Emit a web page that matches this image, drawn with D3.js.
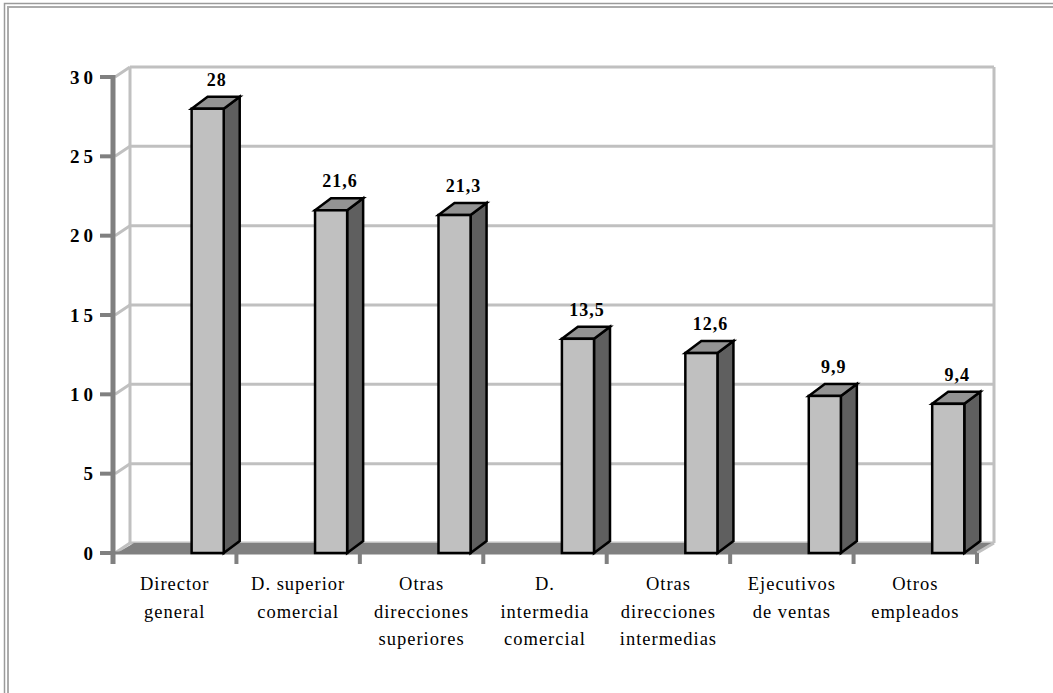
<!DOCTYPE html>
<html>
<head>
<meta charset="utf-8">
<script src="https://cdn.jsdelivr.net/npm/d3@7"></script>
<style>
html,body{margin:0;padding:0;background:#fff;}
svg{display:block;}
text{font-family:"Times New Roman","Liberation Serif",Tinos,serif;}
</style>
</head>
<body>
<svg id="chart" width="1053" height="693"></svg>
<script>
const categories = [
  ["Director", "general"],
  ["D. superior", "comercial"],
  ["Otras", "direcciones", "superiores"],
  ["D.", "intermedia", "comercial"],
  ["Otras", "direcciones", "intermedias"],
  ["Ejecutivos", "de ventas"],
  ["Otros", "empleados"]
];
const values = [28, 21.6, 21.3, 13.5, 12.6, 9.9, 9.4];
const valueLabels = ["28", "21,6", "21,3", "13,5", "12,6", "9,9", "9,4"];
const yTicks = [0, 5, 10, 15, 20, 25, 30];

const svg = d3.select("#chart");

// outer frame (double line, cropped at right/bottom)
svg.append("rect").attr("x", 4.5).attr("y", 3.5).attr("width", 1100).attr("height", 800)
  .attr("fill", "none").attr("stroke", "#9a9a9a").attr("stroke-width", 1.5);
svg.append("rect").attr("x", 8).attr("y", 7).attr("width", 1100).attr("height", 800)
  .attr("fill", "none").attr("stroke", "#ababab").attr("stroke-width", 2);

const keys = categories.map(c => c.join(" "));
const x = d3.scaleBand().domain(keys).range([113, 977]).padding(0);
const y = d3.scaleLinear().domain([0, 30]).range([553, 77]);

const WDX = 17, WDY = 10;   // wall depth
const BDX = 16, BDY = 12;   // bar depth
const x0 = x.range()[0], x1 = x.range()[1];

const wall = svg.append("g");
yTicks.forEach(t => {
  wall.append("line")
    .attr("x1", x0 + WDX).attr("x2", x1 + WDX)
    .attr("y1", y(t) - WDY).attr("y2", y(t) - WDY)
    .attr("stroke", "#c0c0c0").attr("stroke-width", 3);
  wall.append("line")
    .attr("x1", x0 + 2).attr("y1", y(t))
    .attr("x2", x0 + WDX).attr("y2", y(t) - WDY)
    .attr("stroke", "#c0c0c0").attr("stroke-width", 3);
});
wall.append("line").attr("x1", x0 + WDX).attr("x2", x0 + WDX)
  .attr("y1", y(30) - WDY).attr("y2", y(0) - WDY)
  .attr("stroke", "#c0c0c0").attr("stroke-width", 3);
wall.append("line").attr("x1", x1 + WDX).attr("x2", x1 + WDX)
  .attr("y1", y(30) - WDY).attr("y2", y(0) - WDY)
  .attr("stroke", "#c0c0c0").attr("stroke-width", 3);

// floor
const floorPts = [[x0 + 4, y(0)], [x1, y(0)], [x1 + WDX, y(0) - WDY], [x0 + WDX + 4, y(0) - WDY]];
wall.append("path").attr("d", "M" + floorPts.map(p => p.join(",")).join("L") + "Z")
  .attr("fill", "#808080");
wall.append("line").attr("x1", x1).attr("y1", y(0)).attr("x2", x1 + WDX).attr("y2", y(0) - WDY)
  .attr("stroke", "#c0c0c0").attr("stroke-width", 3);

// axes
const axisG = svg.append("g");
axisG.append("line").attr("x1", x0).attr("x2", x0).attr("y1", y(30) - 2).attr("y2", y(0) + 11)
  .attr("stroke", "#808080").attr("stroke-width", 5);
yTicks.forEach(t => {
  axisG.append("line").attr("x1", 100).attr("x2", x0).attr("y1", y(t)).attr("y2", y(t))
    .attr("stroke", "#808080").attr("stroke-width", 4);
  axisG.append("text").attr("x", 93 + 4).attr("y", y(t)).attr("dy", "0.35em")
    .attr("text-anchor", "end")
    .attr("font-weight", "bold").attr("font-size", 19)
    .attr("letter-spacing", "4px")
    .text(t);
});
axisG.append("line").attr("x1", x0).attr("x2", x1).attr("y1", y(0)).attr("y2", y(0))
  .attr("stroke", "#808080").attr("stroke-width", 3);
keys.concat([null]).forEach((k) => {
  const xx = k === null ? x1 : x(k);
  axisG.append("line").attr("x1", xx).attr("x2", xx).attr("y1", y(0)).attr("y2", y(0) + 11)
    .attr("stroke", "#808080").attr("stroke-width", 4);
});

// bars
const bars = svg.append("g");
keys.forEach((k, i) => {
  const bx = x(k) + x.bandwidth() * 0.637;
  const bw = x.bandwidth() * 0.26;
  const top = y(values[i]);
  const bot = y(0);
  const g = bars.append("g").attr("stroke", "#000").attr("stroke-width", 2.5).attr("stroke-linejoin", "miter");
  g.append("path").attr("d",
    `M${bx + bw},${bot}L${bx + bw + BDX},${bot - BDY}L${bx + bw + BDX},${top - BDY}L${bx + bw},${top}Z`)
    .attr("fill", "#5f5f5f");
  g.append("path").attr("d",
    `M${bx},${top}L${bx + BDX},${top - BDY}L${bx + bw + BDX},${top - BDY}L${bx + bw},${top}Z`)
    .attr("fill", "#939393");
  g.append("rect").attr("x", bx).attr("y", top).attr("width", bw).attr("height", bot - top)
    .attr("fill", "#c0c0c0");
  svg.append("text")
    .attr("x", bx + bw / 2 + BDX / 2 + 1).attr("y", top - BDY - 11)
    .attr("text-anchor", "middle")
    .attr("font-weight", "bold").attr("font-size", 18)
    .attr("letter-spacing", "1px")
    .text(valueLabels[i]);
});

// category labels
categories.forEach((lines, i) => {
  const cx = x(keys[i]) + x.bandwidth() / 2;
  const t = svg.append("text").attr("text-anchor", "middle")
    .attr("font-size", 18.5).attr("letter-spacing", "1px");
  lines.forEach((ln, j) => {
    t.append("tspan").attr("x", cx).attr("y", 590 + j * 27.5).text(ln);
  });
});
</script>
</body>
</html>
